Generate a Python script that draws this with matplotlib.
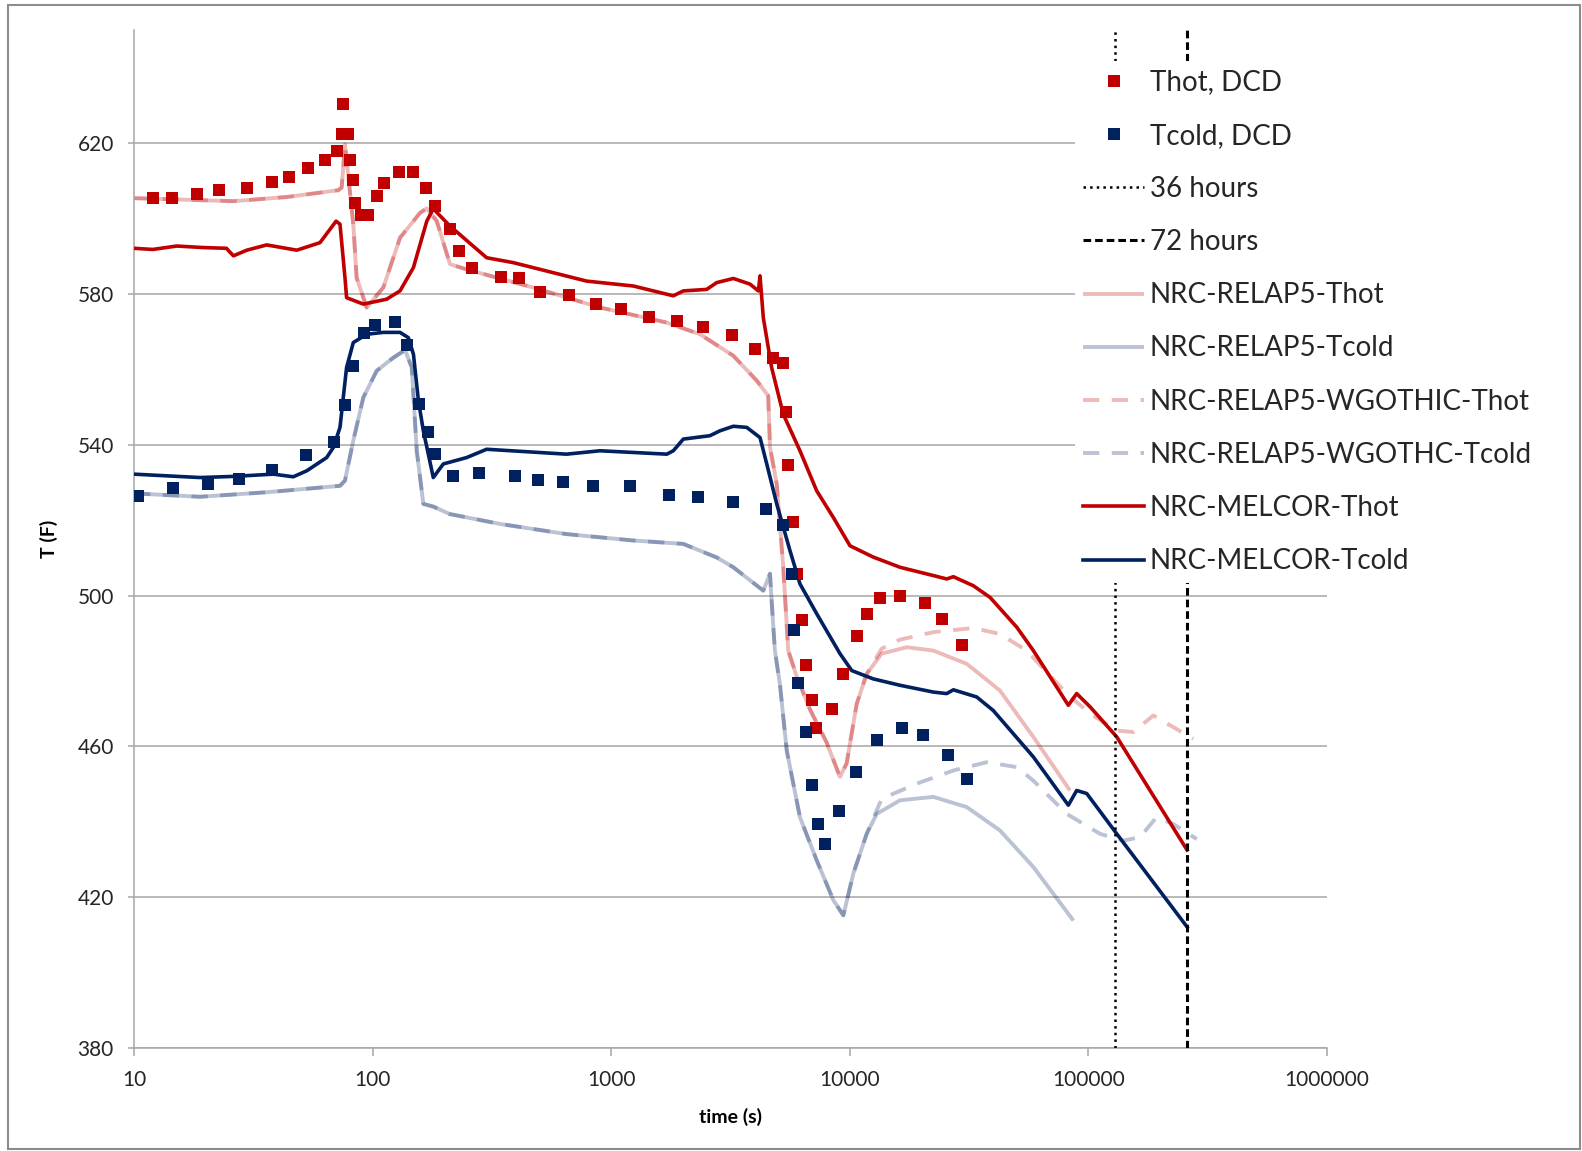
import numpy as np
import matplotlib
matplotlib.use("Agg")
import matplotlib.pyplot as plt
from matplotlib.patches import Rectangle
from matplotlib.ticker import FixedLocator, FuncFormatter

plt.rcParams["font.family"] = ["Lato", "DejaVu Sans"]

# DCD data (squares)
thotDcdTime = [12.05, 14.4, 18.3, 22.7, 29.7, 37.8, 44.8, 53.8, 63.2, 71.1, 74.9, 74.2, 79.1, 80.4,
               82.5, 84.4, 89.2, 95.9, 104, 111.6, 129.4, 147.2, 167.4, 182.6, 211, 230.8, 260.2,
               344.3, 412, 502.9, 665.5, 861, 1099, 1436, 1882, 2432, 3218, 4006, 4779, 5263, 5386,
               5491, 5765, 5996, 6286, 6551, 6923, 7215, 8398, 9337, 10720, 11806, 13425, 16233,
               20665, 24280, 29444]
thotDcdTemp = [605.4, 605.4, 606.4, 607.6, 608.2, 609.7, 611.0, 613.3, 615.6, 617.9, 630.4, 622.5,
               622.5, 615.6, 610.1, 604.1, 600.9, 600.9, 605.9, 609.4, 612.4, 612.4, 608.2, 603.2,
               597.2, 591.4, 586.8, 584.6, 584.1, 580.5, 579.7, 577.3, 576.1, 574.0, 572.8, 571.1,
               569.1, 565.3, 563.1, 561.6, 548.7, 534.7, 519.4, 505.7, 493.4, 481.5, 472.4, 465.0,
               470.0, 479.2, 489.4, 495.2, 499.3, 499.8, 498.1, 493.9, 486.8]

tcoldDcdTime = [10.36, 14.6, 20.4, 27.6, 38, 52.6, 68.9, 76.6, 83, 92, 102.3, 124.2, 139.8, 157,
                171.2, 182.6, 216.6, 280, 395.3, 494.8, 626, 841, 1199, 1742, 2304, 3249, 4455,
                5263, 5710, 5839, 6050, 6551, 6923, 7379, 7870, 9036, 10617, 13044, 16502, 20210,
                25870, 31080]
tcoldDcdTemp = [526.5, 528.4, 529.6, 530.8, 533.2, 537.3, 540.7, 550.5, 560.9, 569.6, 571.8, 572.6,
                566.4, 550.9, 543.5, 537.5, 531.8, 532.4, 531.8, 530.6, 530.0, 529.1, 529.1, 526.8,
                526.2, 524.7, 523.0, 518.7, 505.7, 490.9, 476.8, 463.8, 449.7, 439.3, 434.2, 442.9,
                453.2, 461.8, 465.0, 462.9, 457.6, 451.3]

# NRC-MELCOR
melHotTime = [10, 12, 15.1, 19.5, 24.4, 26.1, 29.7, 36, 48.1, 60.2, 70.3, 73, 76.6, 77.8, 91.4,
              114.5, 130.3, 148.3, 168.7, 179.6, 211, 300.6, 388.8, 789, 1238, 1821, 2006, 2513,
              2768, 3250, 3819, 4138, 4205, 4340, 4702, 5262, 6182, 7263, 8533, 10020, 12540,
              16240, 22400, 25480, 27170, 32950, 38730, 50100, 58800, 82400, 89300, 101600,
              131500, 259200]
melHotTemp = [592.1, 591.8, 592.7, 592.3, 592.1, 590.1, 591.6, 593.0, 591.6, 593.6, 599.3, 598.5,
              584.3, 579.0, 577.3, 578.6, 580.8, 587.0, 599.3, 602.6, 598.0, 589.6, 588.3, 583.4,
              582.1, 579.5, 580.8, 581.2, 583.0, 584.1, 582.6, 580.8, 584.8, 573.7, 560.5, 548.1,
              538.4, 527.8, 520.7, 513.2, 510.2, 507.5, 505.3, 504.4, 505.0, 502.6, 499.5, 491.6,
              485.4, 470.9, 474.0, 470.5, 462.5, 432.5]

melColdTime = [10, 18.9, 26.1, 38.4, 46.5, 53, 64.2, 68.5, 73, 77.8, 83, 94.4, 110.9, 130.3, 141.2,
               148.3, 155.6, 163.2, 179.6, 197.8, 247.8, 300.6, 650, 897, 1710, 1821, 2006, 2594,
               2857, 3250, 3700, 4205, 4487, 4941, 5615, 6182, 7263, 9094, 10190, 12540, 16240,
               22400, 25480, 27170, 34030, 39940, 58800, 82400, 89300, 98400, 131500, 259200]
melColdTemp = [532.2, 531.3, 531.6, 532.2, 531.5, 533.1, 536.6, 539.3, 544.6, 560.5, 567.1, 569.3,
               569.8, 569.8, 568.4, 564.0, 551.7, 543.7, 531.3, 534.9, 536.6, 538.8, 537.5, 538.4,
               537.5, 538.4, 541.5, 542.4, 543.7, 544.9, 544.6, 541.9, 534.9, 524.3, 511.9, 503.1,
               495.2, 484.6, 480.1, 477.9, 476.2, 474.4, 474.0, 475.0, 473.1, 469.5, 457.2, 444.4,
               448.3, 447.5, 436.8, 412.1]

# NRC-RELAP5, common part of both runs (to ~12000 s)
relHotTime = [10, 26.1, 43.6, 71.8, 74.2, 76.6, 83, 85.7, 94.4, 110.9, 130.3, 158.1, 168.7, 185.8,
              211, 247.8, 471, 897, 1710, 2357, 3250, 4074, 4550, 4630, 4941, 5262, 5521, 5985,
              6808, 8000, 9094, 9700, 10690, 11770]
relHotTemp = [605.4, 604.6, 605.7, 607.5, 608.2, 619.7, 598.5, 584.3, 576.4, 581.7, 594.9, 601.5,
              602.7, 599.3, 587.9, 586.5, 581.7, 576.4, 572.4, 569.3, 563.6, 557.0, 553.0, 539.3,
              529.6, 507.5, 485.4, 478.6, 469.8, 461.0, 451.9, 455.5, 471.3, 479.2]
relColdTime = [10, 18.9, 36, 73, 76.6, 83, 91.4, 104, 122.2, 136.8, 145.9, 153.1, 163.2, 179.6,
               211, 342, 650, 1238, 2006, 2768, 3250, 4340, 4630, 4702, 4853, 5093, 5441, 6182,
               7263, 8533, 9397, 10350, 11770]
relColdTemp = [527.1, 526.2, 527.4, 529.1, 530.5, 541.1, 552.5, 559.6, 563.1, 565.1, 560.5, 538.4,
               524.3, 523.6, 521.6, 519.0, 516.3, 514.6, 513.7, 510.1, 507.5, 501.3, 505.8, 498.7,
               485.4, 476.6, 458.9, 441.2, 429.8, 419.2, 415.2, 426.3, 436.8]

# NRC-RELAP5 afterwards
relHotTailTime = [13600, 17330, 22400, 30900, 42600, 58800, 83700]
relHotTailTemp = [484.6, 486.3, 485.4, 481.9, 474.8, 462.5, 448.3]
relColdTailTime = [12970, 16240, 22400, 30900, 42600, 58800, 86500]
relColdTailTemp = [442.1, 445.7, 446.6, 443.9, 437.7, 428.0, 413.8]

# NRC-RELAP5-WGOTHIC afterwards
wgHotTailTime = [13600, 16220, 22400, 32950, 42600, 55100, 81100, 101600, 131500, 154300, 187100,
                 226800, 275200]
wgHotTailTemp = [485.9, 488.3, 490.3, 491.4, 489.8, 485.4, 474.0, 468.7, 464.2, 463.8, 468.2,
                 465.1, 462.0]
wgColdTailTime = [13600, 19050, 27170, 37500, 50100, 58800, 81100, 111900, 140100, 164400, 193000,
                  226800, 284600]
wgColdTailTemp = [446.1, 450.1, 453.6, 455.8, 454.5, 450.9, 442.1, 436.8, 435.0, 435.9, 441.2,
                  439.4, 435.4]

hours36 = 36 * 3600
hours72 = 72 * 3600

yTicks = [380, 420, 460, 500, 540, 580, 620]
xTicks = [10, 100, 1000, 10000, 100000, 1000000]

red = "#C00000"
navy = "#002060"
gridGray = "#A6A6A6"
W, H = 1582, 1151


def makePlot():
    fig = plt.figure(figsize=(W / 100, H / 100), dpi=100)
    ax = fig.add_axes([134 / W, 1 - 1048 / H, (1327 - 134) / W, (1048 - 30) / H])

    dashes = (4.2, 3.2)
    ax.plot(relHotTime + relHotTailTime, relHotTemp + relHotTailTemp, color=red, alpha=0.27,
            lw=2.8, solid_capstyle="butt", label="NRC-RELAP5-Thot", zorder=2)
    ax.plot(relColdTime + relColdTailTime, relColdTemp + relColdTailTemp, color=navy, alpha=0.27,
            lw=2.8, solid_capstyle="butt", label="NRC-RELAP5-Tcold", zorder=2)
    ax.plot(relHotTime + wgHotTailTime, relHotTemp + wgHotTailTemp, color=red, alpha=0.27,
            lw=2.8, dashes=dashes, label="NRC-RELAP5-WGOTHIC-Thot", zorder=2)
    ax.plot(relColdTime + wgColdTailTime, relColdTemp + wgColdTailTemp, color=navy, alpha=0.27,
            lw=2.8, dashes=dashes, label="NRC-RELAP5-WGOTHC-Tcold", zorder=2)
    ax.plot(melHotTime, melHotTemp, color=red, lw=2.6, label="NRC-MELCOR-Thot", zorder=3)
    ax.plot(melColdTime, melColdTemp, color=navy, lw=2.6, label="NRC-MELCOR-Tcold", zorder=3)

    ax.plot(thotDcdTime, thotDcdTemp, ls="none", marker="s", ms=8.5, color=red, mew=0,
            label="Thot, DCD", zorder=4)
    ax.plot(tcoldDcdTime, tcoldDcdTemp, ls="none", marker="s", ms=8.5, color=navy, mew=0,
            label="Tcold, DCD", zorder=4)

    ax.axvline(hours36, color="black", lw=1.8, ls=":", label="36 hours", zorder=3)
    ax.axvline(hours72, color="black", lw=2.2, dashes=(2.5, 1.3), label="72 hours", zorder=3)

    ax.set_xscale("log")
    ax.set_xlim(10, 1e6)
    ax.set_ylim(380, 650)
    ax.xaxis.set_major_locator(FixedLocator(xTicks))
    ax.xaxis.set_major_formatter(FuncFormatter(lambda v, p: "%d" % v))
    ax.xaxis.set_minor_locator(FixedLocator([]))
    ax.set_yticks(yTicks)
    ax.grid(axis="y", color=gridGray, lw=1.1)
    ax.set_axisbelow(True)
    for side in ["top", "right"]:
        ax.spines[side].set_visible(False)
    for side in ["left", "bottom"]:
        ax.spines[side].set_color(gridGray)
        ax.spines[side].set_linewidth(1.1)
    ax.tick_params(axis="y", length=4.5, width=1.1, color=gridGray, pad=10, labelsize=15,
                   labelcolor="#262626")
    ax.tick_params(axis="x", length=5.5, width=1.1, color=gridGray, pad=10, labelsize=15,
                   labelcolor="#262626")

    ax.set_xlabel("time (s)", fontsize=14, fontweight="bold", labelpad=13)
    ax.set_ylabel("T (F)", fontsize=14, fontweight="bold", labelpad=14)

    handles, labels = ax.get_legend_handles_labels()
    order = ["Thot, DCD", "Tcold, DCD", "36 hours", "72 hours", "NRC-RELAP5-Thot",
             "NRC-RELAP5-Tcold", "NRC-RELAP5-WGOTHIC-Thot", "NRC-RELAP5-WGOTHC-Tcold",
             "NRC-MELCOR-Thot", "NRC-MELCOR-Tcold"]
    byLabel = dict(zip(labels, handles))
    leg = fig.legend([byLabel[k] for k in order], order, loc="upper left",
                     bbox_to_anchor=(1075 / W, 1 - 61 / H), fontsize=20, frameon=True,
                     fancybox=False, borderpad=0.3, borderaxespad=0, handlelength=2.2,
                     handletextpad=0.2, labelspacing=0.98, numpoints=1)
    leg.get_frame().set_facecolor("white")
    leg.get_frame().set_edgecolor("none")
    leg.get_frame().set_alpha(1)
    for t in leg.get_texts():
        t.set_color("#262626")

    fig.patches.append(Rectangle((8 / W, 1 - 1149 / H), (1580 - 8) / W, (1149 - 5) / H,
                                 transform=fig.transFigure, fill=False, edgecolor="#8C8C8C",
                                 lw=1.5))
    fig.savefig("out.png", dpi=100)


makePlot()
